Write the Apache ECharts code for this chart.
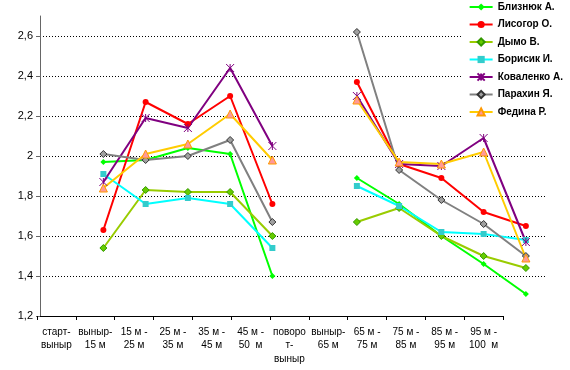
<!DOCTYPE html>
<html><head><meta charset="utf-8">
<script src="https://cdn.jsdelivr.net/npm/echarts@6/dist/echarts.min.js"></script>
<style>html,body{margin:0;padding:0;background:#fff}#c{width:570px;height:370px}</style>
</head><body><div id="c"></div>
<script>
const categories = ["старт-\nвыныр","выныр-\n15 м","15 м -\n25 м","25 м -\n35 м","35 м -\n45 м","45 м -\n50  м","поворо\nт-\nвыныр","выныр-\n65 м","65 м -\n75 м","75 м -\n85 м","85 м -\n95 м","95 м -\n100  м"];
const yTicks = [1.2,1.4,1.6,1.8,2.0,2.2,2.4,2.6];
const blizniuk  = [null,1.97,1.98,2.04,2.01,1.40,null,1.89,1.76,1.60,1.46,1.31];
const lysogor   = [null,1.63,2.27,2.16,2.30,1.76,null,2.37,1.96,1.89,1.72,1.65];
const dymo      = [null,1.54,1.83,1.82,1.82,1.60,null,1.67,1.74,1.60,1.50,1.44];
const borysyk   = [null,1.91,1.76,1.79,1.76,1.54,null,1.85,1.75,1.62,1.61,1.58];
const kovalenko = [null,1.87,2.19,2.14,2.44,2.05,null,2.30,1.96,1.95,2.09,1.57];
const parakhin  = [null,2.01,1.98,2.00,2.08,1.67,null,2.62,1.93,1.78,1.66,1.50];
const fedina    = [null,1.84,2.01,2.06,2.21,1.98,null,2.28,1.97,1.96,2.02,1.49];
const names = ["Близнюк А.","Лисогор О.","Дымо В.","Борисик И.","Коваленко А.","Парахин Я.","Федина Р."];

const FONT = '"Liberation Sans", Arial, sans-serif';
const star = 'path://M0,0L10,10M10,0L0,10M5,0L5,10';
function mk(name, data, line, sym, size, fill, border, bw){
  return {name, type:'line', data, xAxisIndex:0, yAxisIndex:0, connectNulls:false,
    symbol:sym, symbolSize:size, showSymbol:true,
    lineStyle:{color:line, width:2},
    itemStyle:{color:fill, borderColor:border, borderWidth:bw},
    emphasis:{disabled:true}};
}
const chart = echarts.init(document.getElementById('c'), null, {renderer:'canvas'});
chart.setOption({
  animation:false,
  backgroundColor:'#fff',
  textStyle:{fontFamily:FONT},
  grid:[
    {left:40, right:23, top:16, bottom:54},
    {left:37, right:67, top:16, bottom:54}
  ],
  xAxis:[
    {type:'category', gridIndex:0, data:categories, boundaryGap:true, show:false},
    {type:'category', gridIndex:1, data:categories, boundaryGap:true,
     axisLine:{lineStyle:{color:'#000', width:1}},
     axisTick:{show:true, length:4, alignWithLabel:false, lineStyle:{color:'#000'}},
     axisLabel:{interval:0, fontSize:10, color:'#000', fontFamily:FONT, lineHeight:13.5, margin:9}}
  ],
  yAxis:[
    {type:'value', gridIndex:0, min:yTicks[0], max:2.7, interval:0.2,
     axisLine:{show:true, lineStyle:{color:'#666', width:1}},
     axisTick:{show:true, length:4, lineStyle:{color:'#666'}},
     axisLabel:{fontSize:11, color:'#000', fontFamily:FONT, margin:7, showMaxLabel:false,
       formatter:v => (Math.round(v*10)/10).toString().replace('.',',')},
     splitLine:{show:true, showMinLine:false, showMaxLine:false, lineStyle:{color:'#000', type:[1,2], width:1}}},
    {type:'value', gridIndex:1, min:yTicks[0], max:2.7, show:false, splitLine:{show:false}}
  ],
  legend:{
    orient:'vertical', right:5, top:0, backgroundColor:'#fff', padding:[1,2,3,6],
    itemWidth:23, itemHeight:9, itemGap:5.5,
    textStyle:{fontSize:10, fontWeight:'bold', color:'#000', fontFamily:FONT, lineHeight:12},
    data:names
  },
  series:[
    mk(names[0], blizniuk, '#00FF00', 'diamond', 6, '#00FF00', '#00CC00', 0),
    mk(names[1], lysogor, '#FF0000', 'circle', 6, '#FF0000', '#FF0000', 0),
    mk(names[2], dymo, '#99CC00', 'diamond', 7, '#66CC00', '#339900', 1),
    mk(names[3], borysyk, '#00FFFF', 'rect', 6, '#33CCCC', '#33CCCC', 0),
    mk(names[4], kovalenko, '#800080', star, 8, '#800080', '#800080', 1),
    mk(names[5], parakhin, '#808080', 'diamond', 7, '#A0A0A0', '#333333', 1),
    mk(names[6], fedina, '#FFCC00', 'triangle', 8, '#FF9999', '#FF9900', 1)
  ]
});
</script></body></html>
